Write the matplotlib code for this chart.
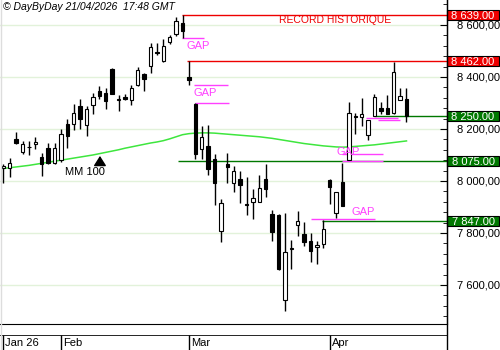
import matplotlib
matplotlib.use('Agg')
import matplotlib.pyplot as plt
import matplotlib.transforms as mtransforms
from matplotlib.patches import Rectangle
from matplotlib.lines import Line2D
from matplotlib.ticker import MultipleLocator

plt.rcParams['font.family'] = ['Liberation Sans', 'DejaVu Sans']

# daily candles, 20 Jan -> 21 Apr 2026 (one entry per session)
opens = [8050, 8049, 8160, 8113, 8129, 8141, 8093, 8126, 8068, 8081,
         8219, 8218, 8288, 8214, 8291, 8347, 8340, 8432, 8313, 8323,
         8312, 8368, 8412, 8442, 8494, 8463, 8536, 8565, 8607, 8401,
         8295, 8122, 8135, 8083, 7807, 8065, 7991, 8007, 7910, 7918,
         7918, 8007, 7873, 7868, 7541, 7739, 7832, 7796, 7770, 7745,
         7758, 8004, 7876, 7995, 8081, 8248, 8247, 8176, 8250, 8280,
         8282, 8263, 8312, 8317]
highs = [8065, 8090, 8187, 8153, 8155, 8168, 8109, 8145, 8147, 8199,
         8237, 8296, 8314, 8288, 8337, 8367, 8357, 8435, 8330, 8333,
         8369, 8440, 8417, 8530, 8530, 8546, 8562, 8632, 8639, 8462,
         8299, 8212, 8214, 8104, 7930, 8107, 8058, 8037, 8014, 7968,
         8023, 8065, 7888, 7873, 7878, 7773, 7886, 7842, 7800, 7770,
         7850, 8009, 7959, 8070, 8304, 8260, 8319, 8235, 8335, 8304,
         8331, 8457, 8357, 8357]
lows = [7993, 8014, 8141, 8104, 8100, 8123, 8018, 8066, 8066, 8074,
        8126, 8196, 8199, 8173, 8258, 8314, 8277, 8335, 8270, 8312,
        8291, 8365, 8347, 8417, 8485, 8459, 8526, 8558, 8549, 8368,
        8085, 8085, 8024, 7908, 7767, 7993, 7959, 7914, 7870, 7855,
        7918, 7940, 7770, 7659, 7501, 7660, 7790, 7750, 7690, 7680,
        7742, 7912, 7857, 7905, 8081, 8181, 8212, 8158, 8250, 8257,
        8258, 8258, 8312, 8228]
closes = [8058, 8068, 8147, 8141, 8131, 8151, 8065, 8068, 8126, 8181,
          8174, 8260, 8237, 8276, 8322, 8326, 8309, 8335, 8315, 8314,
          8359, 8427, 8393, 8514, 8492, 8519, 8555, 8617, 8578, 8388,
          8104, 8168, 8045, 7991, 7914, 8055, 8040, 7983, 7908, 7933,
          7972, 7968, 7805, 7663, 7726, 7741, 7846, 7767, 7730, 7755,
          7814, 7978, 7959, 7905, 8260, 8246, 8258, 8235, 8324, 8270,
          8258, 8420, 8328, 8250]
mm100 = [8048, 8051, 8054, 8057, 8060, 8064, 8068, 8072, 8076, 8080,
         8084, 8088, 8092, 8096, 8100, 8105, 8110, 8115, 8120, 8126,
         8131, 8136, 8141, 8146, 8150, 8155, 8162, 8170, 8178, 8182,
         8184, 8185, 8185, 8184, 8182, 8180, 8178, 8176, 8174, 8172,
         8170, 8167, 8164, 8160, 8156, 8152, 8148, 8144, 8141, 8138,
         8135, 8133, 8131, 8130, 8131, 8133, 8135, 8137, 8139, 8142,
         8145, 8148, 8151, 8154]

months = ['Jan 26', 'Feb', 'Mar', 'Apr']
month_start = [0, 9, 29, 51]
yticks = [7600, 7800, 8000, 8200, 8400, 8600]

# resistances (red) / supports (green): level, first session
red_levels = [8639, 8462]
red_from = [27.9, 28.7]
green_levels = [8250, 8075, 7847]
green_from = [57.9, 27.3, 49.8]

# gaps
gap_levels = [8549, 8368, 8299, 8103, 8077, 7853, 8242, 8234]
gap_from = [27.9, 29.8, 30.0, 52.9, 52.9, 48.1, 56.7, 58.5]
gap_to = [31.4, 35.1, 35.3, 59.3, 59.3, 58.1, 61.7, 62.0]
gap_lbl_x = [30.4, 31.5, 53.9, 56.2]
gap_lbl_y = [8519, 8338, 8110, 7882]

RED = '#ee0000'
DGREEN = '#007800'
MAG = '#ff40ff'

W, H = 500, 350
fig = plt.figure(figsize=(5, 3.5), dpi=100)
ax = fig.add_axes([0, 1 - 324 / H, 447 / W, 324 / H])
x0, x1 = -0.52, 69.33
ax.set_xlim(x0, x1)
ax.set_ylim(7450, 8696)

ax.grid(axis='y', color='#e2f2da', lw=1)
ax.set_axisbelow(True)

# mm 100
ax.plot(range(len(mm100)), mm100, color='#3ee63e', lw=1.1, zorder=2)

# candles
for i, (o, h, l, c) in enumerate(zip(opens, highs, lows, closes)):
    ax.vlines(i, l, h, color='black', lw=1, zorder=3)
    body = max(abs(c - o), 3)
    ax.add_patch(Rectangle((i - 0.27, min(o, c)), 0.54, body,
                           facecolor='black' if c < o else 'white',
                           edgecolor='black', lw=0.8, zorder=4))

ax.hlines(red_levels, red_from, x1, color=RED, lw=1, zorder=2)
ax.hlines(green_levels, green_from, x1, color=DGREEN, lw=1, zorder=2)
ax.hlines(gap_levels, gap_from, gap_to, color=MAG, lw=1, zorder=2)
for gx, gy in zip(gap_lbl_x, gap_lbl_y):
    ax.text(gx, gy, 'GAP', color=MAG, fontsize=8, ha='center', va='center', zorder=6)

ax.text(51.9, 8619, 'RECORD HISTORIQUE', color=RED, fontsize=7.5, ha='center', va='center')

ax.annotate('', xy=(15.1, 8107), xytext=(15.1, 8068),
            arrowprops=dict(arrowstyle='-|>,head_length=0.6,head_width=0.38',
                            color='black', lw=1))
ax.text(12.8, 8033, 'MM 100', fontsize=8, ha='center', va='center')

# right price scale
ax.yaxis.tick_right()
ax.set_yticks(yticks)
ax.set_yticklabels([f'{v:,.2f}'.replace(',', ' ').replace('.', ',') for v in yticks])
ax.yaxis.set_minor_locator(MultipleLocator(40))
ax.tick_params(axis='y', which='major', direction='in', length=5, pad=7, labelsize=8)
ax.tick_params(axis='y', which='minor', direction='in', length=3)
ax.set_xticks([])
for s in ['left', 'top']:
    ax.spines[s].set_visible(False)

# highlighted levels on the scale
trans = mtransforms.blended_transform_factory(ax.transAxes, ax.transData)
box_w = 52 / 447
box_h = 10 * (8696 - 7450) / 324
for lvl, col in zip(red_levels + green_levels, [RED] * 2 + [DGREEN] * 3):
    ax.add_patch(Rectangle((1, lvl - box_h / 2), box_w, box_h, transform=trans,
                           facecolor=col, edgecolor='black', lw=0.8,
                           clip_on=False, zorder=5))
    ax.text(1 + box_w / 2, lvl, f'{lvl:,.2f}'.replace(',', ' '), transform=trans,
            color='white', fontsize=8, ha='center', va='center_baseline',
            clip_on=False, zorder=6)

# date strip
ax2 = fig.add_axes([0, 0, 447 / W, 15 / H])
ax2.set_xlim(x0, x1)
ax2.set_ylim(0, 1)
ax2.axis('off')
ax2.axhline(1, color='black', lw=1.2)
ax2.vlines(month_start, 0, 1, color='black', lw=1)
for m, name in zip(month_start, months):
    ax2.text(m + 0.3, 0.45, name, fontsize=8, ha='left', va='center')

fig.add_artist(Line2D([447 / W] * 2, [0, 1], color='black', lw=1))
fig.add_artist(Line2D([0.5 / W] * 2, [0, 1], color='#dddddd', lw=1))

fig.text(3 / W, 1 - 7 / H, '© DayByDay 21/04/2026  17:48 GMT', style='italic',
         fontsize=7.5, ha='left', va='center')

fig.savefig('out.png', dpi=100)
